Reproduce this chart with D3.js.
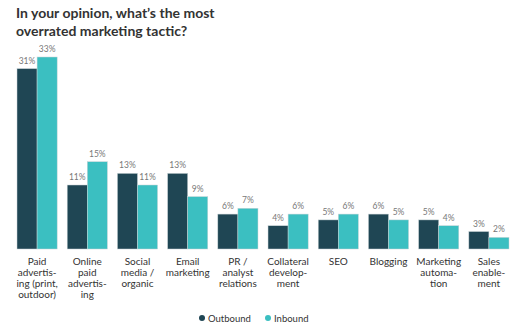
<!DOCTYPE html>
<html>
<head>
<meta charset="utf-8">
<script src="https://cdn.jsdelivr.net/npm/d3@7"></script>
<style>
  body { margin: 0; background: #fff; }
  text { font-family: Lato, "Open Sans", sans-serif; }
</style>
</head>
<body>
<script>

var categories = [
  ["Paid", "advertis-", "ing (print,", "outdoor)"],
  ["Online", "paid", "advertis-", "ing"],
  ["Social", "media /", "organic"],
  ["Email", "marketing"],
  ["PR /", "analyst", "relations"],
  ["Collateral", "develop-", "ment"],
  ["SEO"],
  ["Blogging"],
  ["Marketing", "automa-", "tion"],
  ["Sales", "enable-", "ment"]
];
var outbound = [31, 11, 13, 13, 6, 4, 5, 6, 5, 3];
var inbound = [33, 15, 11, 9, 7, 6, 6, 5, 4, 2];
var seriesNames = ["Outbound", "Inbound"];
var colors = ["#1f4654", "#3bbfc1"];

var width = 522, height = 332;

var svg = d3.select("body").append("svg")
    .attr("width", width)
    .attr("height", height)

svg.append("text")
  .attr("x", 16).attr("y", 18)
  .style("font-size", "14px").style("font-weight", "bold").style("fill", "#333")
  .text("In your opinion, what\u2019s the most")
svg.append("text")
  .attr("x", 16).attr("y", 36)
  .style("font-size", "14px").style("font-weight", "bold").style("fill", "#333")
  .text("overrated marketing tactic?")

var x = d3.scaleBand()
  .domain(d3.range(categories.length))
  .range([17, 509])
  .paddingInner(0.2)
  .paddingOuter(0)

var x1 = d3.scaleBand()
  .domain([0, 1])
  .range([0, x.bandwidth()])

var y = d3.scaleLinear()
  .domain([0, 33])
  .range([249, 57])

var groups = svg.selectAll(".grp")
  .data(categories)
  .enter()
  .append("g")
  .attr("class", "grp")
  .attr("transform", function(d, i){ return "translate(" + x(i) + ",0)" })

groups.each(function(d, i){
  var g = d3.select(this);
  var vals = [outbound[i], inbound[i]];
  vals.forEach(function(v, s){
    g.append("rect")
      .attr("x", x1(s))
      .attr("y", y(v))
      .attr("width", x1.bandwidth())
      .attr("height", y(0) - y(v))
      .style("fill", colors[s])
      .style("stroke", "#c9d3d6")
      .style("stroke-width", 0.5)
    g.append("text")
      .attr("x", x1(s) + x1.bandwidth() / 2)
      .attr("y", y(v) - 5)
      .attr("text-anchor", "middle")
      .style("font-size", "8.5px")
      .style("fill", "#777")
      .text(v + "%")
  })
  d.forEach(function(line, k){
    g.append("text")
      .attr("x", x.bandwidth() / 2)
      .attr("y", 265 + k * 11)
      .attr("text-anchor", "middle")
      .style("font-size", "10px")
      .style("fill", "#333")
      .text(line)
  })
})

// legend
var legendX = [202, 268];
seriesNames.forEach(function(name, s){
  svg.append("circle")
    .attr("cx", legendX[s]).attr("cy", 318).attr("r", 3)
    .style("fill", colors[s])
  svg.append("text")
    .attr("x", legendX[s] + 6).attr("y", 321.5)
    .style("font-size", "9.5px").style("fill", "#333")
    .text(name)
})

</script>
</body>
</html>
